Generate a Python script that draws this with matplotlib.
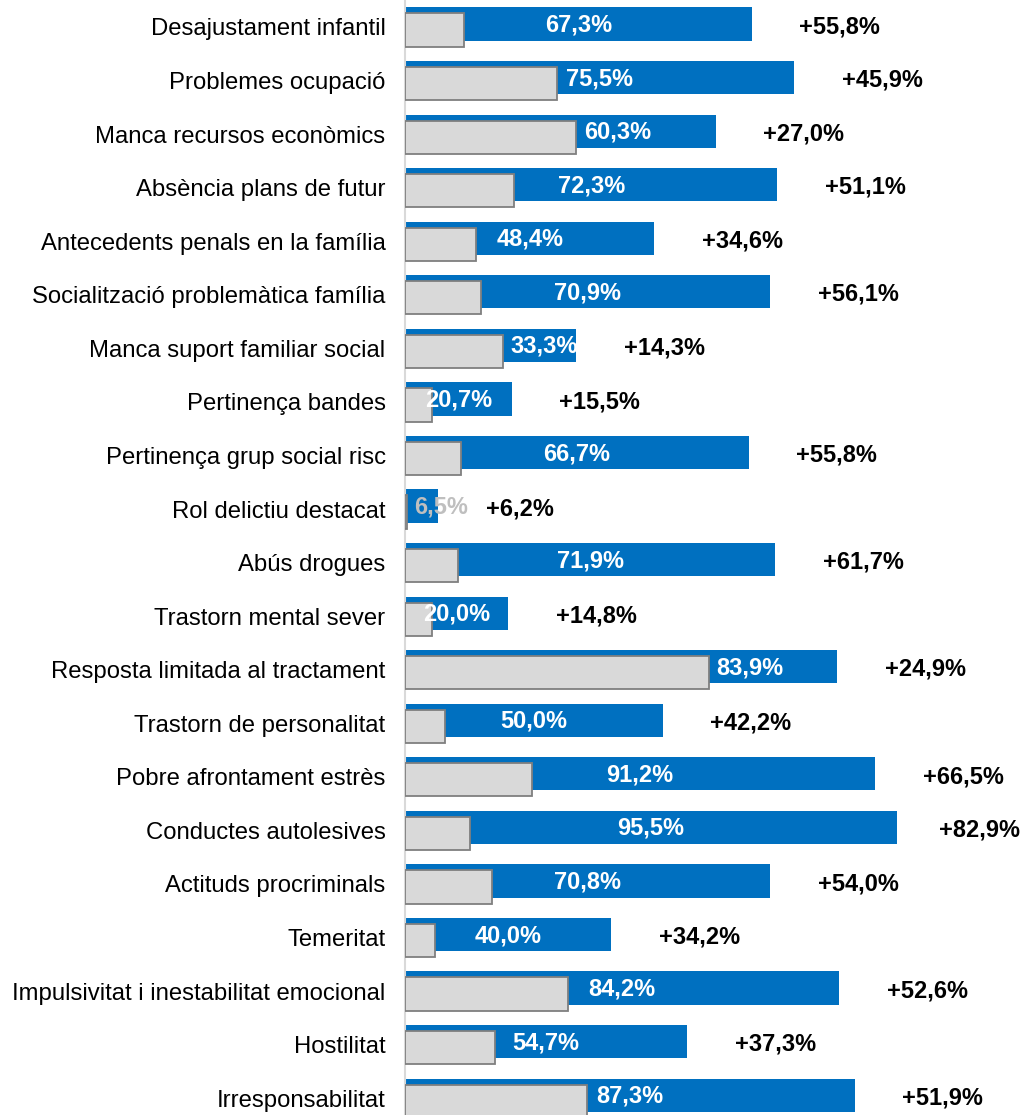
import numpy as np
import matplotlib.pyplot as plt

plt.rcParams['font.family'] = ['Liberation Sans', 'DejaVu Sans']

# Dades del grafic
categories = [
    "Desajustament infantil", "Problemes ocupació", "Manca recursos econòmics",
    "Absència plans de futur", "Antecedents penals en la família",
    "Socialització problemàtica família", "Manca suport familiar social",
    "Pertinença bandes", "Pertinença grup social risc", "Rol delictiu destacat",
    "Abús drogues", "Trastorn mental sever", "Resposta limitada al tractament",
    "Trastorn de personalitat", "Pobre afrontament estrès", "Conductes autolesives",
    "Actituds procriminals", "Temeritat", "Impulsivitat i inestabilitat emocional",
    "Hostilitat", "Irresponsabilitat",
]
blue_values = [67.3, 75.5, 60.3, 72.3, 48.4, 70.9, 33.3, 20.7, 66.7, 6.5, 71.9,
               20.0, 83.9, 50.0, 91.2, 95.5, 70.8, 40.0, 84.2, 54.7, 87.3]
diff_values = [55.8, 45.9, 27.0, 51.1, 34.6, 56.1, 14.3, 15.5, 55.8, 6.2, 61.7,
               14.8, 24.9, 42.2, 66.5, 82.9, 54.0, 34.2, 52.6, 37.3, 51.9]

BLUE = '#0070C0'
GREY = '#D9D9D9'
EDGE = '#7F7F7F'

blue = np.array(blue_values)
diff = np.array(diff_values)
grey = blue - diff
y = np.arange(len(categories))

fig = plt.figure(figsize=(10.23, 11.15), dpi=100)
ax = fig.add_axes([405 / 1023, 0, 1 - 405 / 1023, 1])

h = 0.62
off = 0.112
ax.barh(y, blue, height=h, color=BLUE, zorder=2)
ax.barh(y + off, grey, height=h, facecolor=GREY, edgecolor=EDGE, linewidth=1.3, zorder=3)

fmt = lambda v: f"{v:.1f}".replace('.', ',') + '%'

# etiquetes dels valors
hw, pad = 6.6, 1.4
fs = 17
for i in range(len(categories)):
    b, g = blue[i], grey[i]
    col = 'white' if b > 10 else '#BFBFBF'
    if b <= 10 or (b > 25 and b / 2 - hw < g + pad):
        ax.text(g + pad, i + 0.02, fmt(b), ha='left', va='center', color=col,
                fontsize=fs, fontweight='bold', zorder=4)
    else:
        ax.text(b / 2, i + 0.02, fmt(b), ha='center', va='center', color=col,
                fontsize=fs, fontweight='bold', zorder=4)
    # la diferencia, sense sortir de la figura
    ax.text(min(b + 9.3, 103.6), i + 0.05, '+' + fmt(diff[i]), ha='left', va='center',
            color='black', fontsize=fs, fontweight='bold', zorder=4)

ax.set_xlim(0, 120)
ax.set_ylim(20.37, -0.448)
ax.set_yticks(y + off / 2)
ax.set_yticklabels(categories, fontsize=17.2)
ax.tick_params(axis='y', length=0, pad=14)
ax.set_xticks([])
for s in ['top', 'right', 'bottom']:
    ax.spines[s].set_visible(False)
ax.spines['left'].set_color(GREY)
ax.spines['left'].set_linewidth(1.5)

fig.savefig('out.png', dpi=100)
